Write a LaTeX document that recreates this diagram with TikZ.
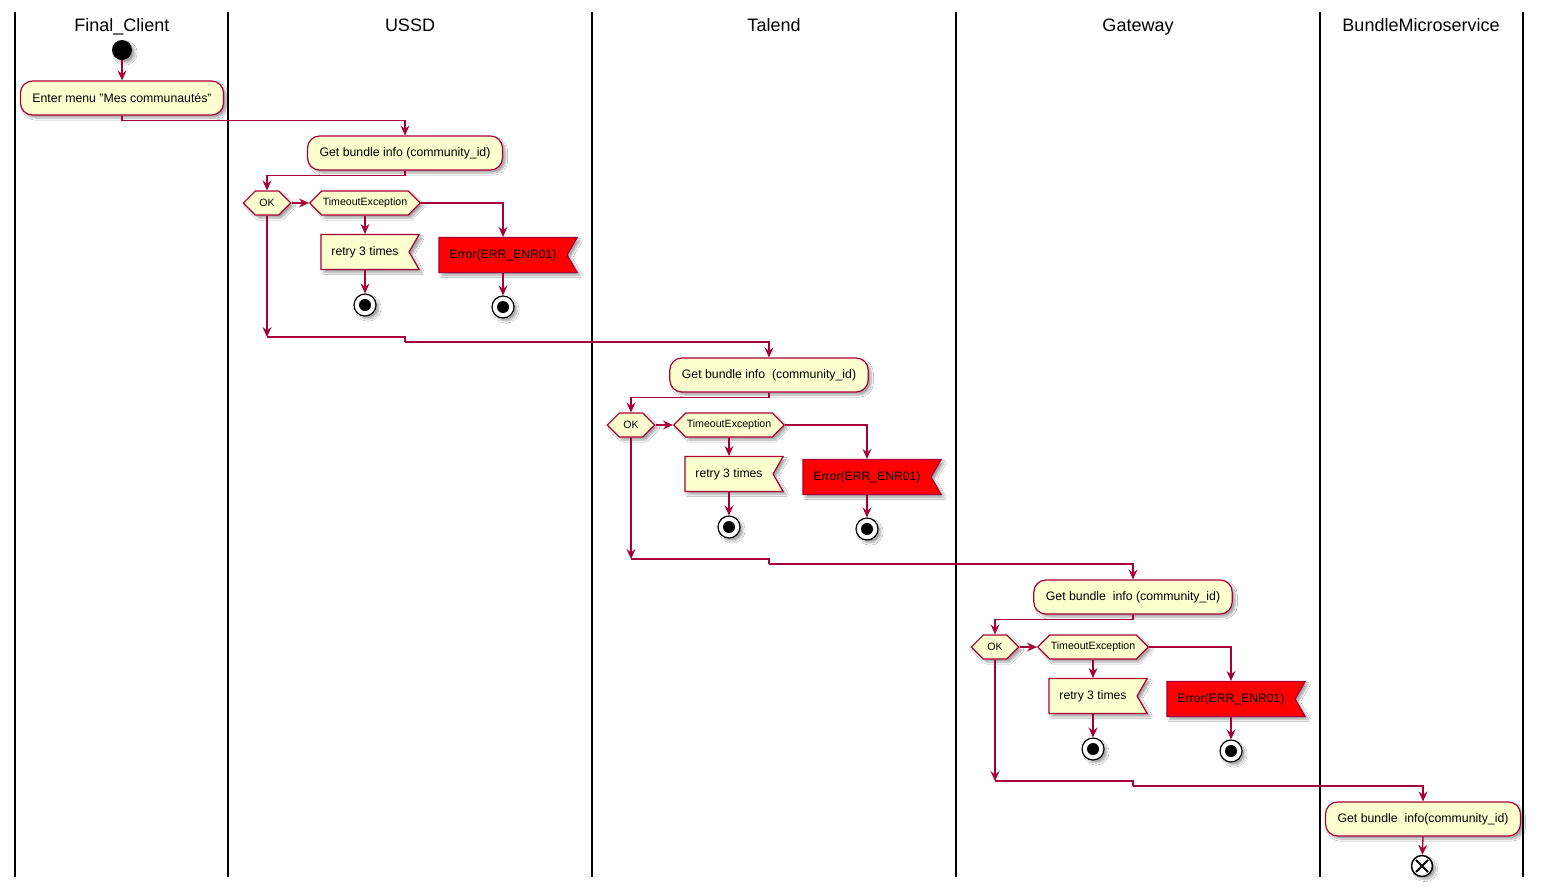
\documentclass[tikz,border=0pt]{standalone}
\usepackage{fontspec}
\setmainfont{Liberation Sans}
\usetikzlibrary{arrows.meta,shapes.symbols,shadows.blur}
\definecolor{umlred}{HTML}{A80036}
\definecolor{umlfill}{HTML}{FEFECE}
\tikzset{
	lane/.style={line width=1.5pt, black},
	lanetitle/.style={anchor=base, font=\fontsize{18}{21}\selectfont},
	dropshade/.style={blur shadow={shadow xshift=3pt, shadow yshift=-3pt, shadow blur steps=6, shadow opacity=35}},
	action/.style={draw=umlred, fill=umlfill, line width=1.2pt, rounded corners=12pt,
			minimum height=34pt, inner xsep=12pt, font=\fontsize{12.3}{14}\selectfont, dropshade},
	decision/.style={signal, signal to=east and west, draw=umlred, fill=umlfill, line width=1.2pt,
			minimum height=24pt, inner xsep=1pt, inner ysep=0pt, font=\fontsize{10.6}{13}\selectfont, dropshade},
	flagbox/.style={signal, signal to=nowhere, signal from=east, signal pointer angle=120,
			draw=umlred, fill=umlfill, line width=1.2pt,
			minimum height=35pt, inner xsep=10.5pt, font=\fontsize{12.2}{14}\selectfont, dropshade},
	errbox/.style={flagbox, fill=red},
	startdot/.style={circle, fill=black, minimum size=20pt, inner sep=0pt, dropshade},
	stopdot/.style={circle, draw=black, fill=white, line width=1.2pt, minimum size=22pt, inner sep=0pt, dropshade,
			path picture={\fill[black] (path picture bounding box.center) circle (6pt);}},
	enddot/.style={circle, draw=black, fill=white, line width=1.5pt, minimum size=21pt, inner sep=0pt, dropshade,
			path picture={
					\draw[line width=2pt] ([shift={(-6pt,6pt)}]path picture bounding box.center) -- ([shift={(6pt,-6pt)}]path picture bounding box.center);
					\draw[line width=2pt] ([shift={(-6pt,-6pt)}]path picture bounding box.center) -- ([shift={(6pt,6pt)}]path picture bounding box.center);}},
	flow/.style={draw=umlred, line width=1.3pt, -{Stealth[length=10pt,width=9pt,inset=3.5pt]}},
	link/.style={draw=umlred, line width=1.3pt}
}
\begin{document}
\begin{tikzpicture}[x=1pt, y=-1pt]
	\useasboundingbox[fill=white] (0,0) rectangle (1541,887);

	% Swimlanes
	\foreach \lx in {15,228,592,956,1320,1523}
	\draw[lane] (\lx,12) -- (\lx,877);
	\node[lanetitle] (tclient) at (122,31) {Final\_Client};
	\node[lanetitle] (tussd) at (410,31) {USSD};
	\node[lanetitle] (ttalend) at (774,31) {Talend};
	\node[lanetitle] (tgateway) at (1138,31) {Gateway};
	\node[lanetitle] (tbundle) at (1421,31) {BundleMicroservice};

	% Final client
	\node[startdot] (start) at (122,50) {};
	\node[action] (enter) at (122,98) {Enter menu "Mes communautés"};
	\draw[flow] (start) -- (enter);

	% USSD
	\node[action] (get1) at (405,153) {Get bundle info (community\_id)};
	\draw[flow] (enter.south) -- ++(0,5) -| (get1.north);
	\node[decision, inner xsep=4pt] (ok1) at (267,203) {OK};
	\node[decision] (tmo1) at (365,203) {TimeoutException};
	\node[flagbox] (retry1) at (365,252) {retry 3 times};
	\node[errbox] (err1) at (503,255) {Error(ERR\_ENR01)};
	\node[stopdot] (stopa1) at (365,305) {};
	\node[stopdot] (stopb1) at (503,307) {};
	\coordinate (join1) at (267,337);
	\coordinate (step1) at (405,342);
	\draw[flow] (get1.south) -- ++(0,5) -| (ok1.north);
	\draw[flow] (ok1.east) -- (tmo1.west);
	\draw[flow] (tmo1.south) -- (retry1.north);
	\draw[flow] (tmo1.east) -| (err1.north);
	\draw[flow] (retry1.south) -- (stopa1);
	\draw[flow] (err1.south) -- (stopb1);
	\draw[flow] (ok1.south) -- (join1);

	% Talend
	\node[action] (get2) at (769,375) {Get bundle info~ (community\_id)};
	\draw[link] (join1) -| (step1);
	\draw[flow] (step1) -| (get2.north);
	\node[decision, inner xsep=4pt] (ok2) at (631,425) {OK};
	\node[decision] (tmo2) at (729,425) {TimeoutException};
	\node[flagbox] (retry2) at (729,474) {retry 3 times};
	\node[errbox] (err2) at (867,477) {Error(ERR\_ENR01)};
	\node[stopdot] (stopa2) at (729,527) {};
	\node[stopdot] (stopb2) at (867,529) {};
	\coordinate (join2) at (631,559);
	\coordinate (step2) at (769,564);
	\draw[flow] (get2.south) -- ++(0,5) -| (ok2.north);
	\draw[flow] (ok2.east) -- (tmo2.west);
	\draw[flow] (tmo2.south) -- (retry2.north);
	\draw[flow] (tmo2.east) -| (err2.north);
	\draw[flow] (retry2.south) -- (stopa2);
	\draw[flow] (err2.south) -- (stopb2);
	\draw[flow] (ok2.south) -- (join2);

	% Gateway
	\node[action] (get3) at (1133,597) {Get bundle~ info (community\_id)};
	\draw[link] (join2) -| (step2);
	\draw[flow] (step2) -| (get3.north);
	\node[decision, inner xsep=4pt] (ok3) at (995,647) {OK};
	\node[decision] (tmo3) at (1093,647) {TimeoutException};
	\node[flagbox] (retry3) at (1093,696) {retry 3 times};
	\node[errbox] (err3) at (1231,699) {Error(ERR\_ENR01)};
	\node[stopdot] (stopa3) at (1093,749) {};
	\node[stopdot] (stopb3) at (1231,751) {};
	\coordinate (join3) at (995,781);
	\coordinate (step3) at (1133,786);
	\draw[flow] (get3.south) -- ++(0,5) -| (ok3.north);
	\draw[flow] (ok3.east) -- (tmo3.west);
	\draw[flow] (tmo3.south) -- (retry3.north);
	\draw[flow] (tmo3.east) -| (err3.north);
	\draw[flow] (retry3.south) -- (stopa3);
	\draw[flow] (err3.south) -- (stopb3);
	\draw[flow] (ok3.south) -- (join3);

	% Bundle microservice
	\node[action] (get4) at (1423,819) {Get bundle~ info(community\_id)};
	\draw[link] (join3) -| (step3);
	\draw[flow] (step3) -| (get4.north);
	\node[enddot] (finish) at (1422,866) {};
	\draw[flow] (get4.south) -- (finish);
\end{tikzpicture}
\end{document}
